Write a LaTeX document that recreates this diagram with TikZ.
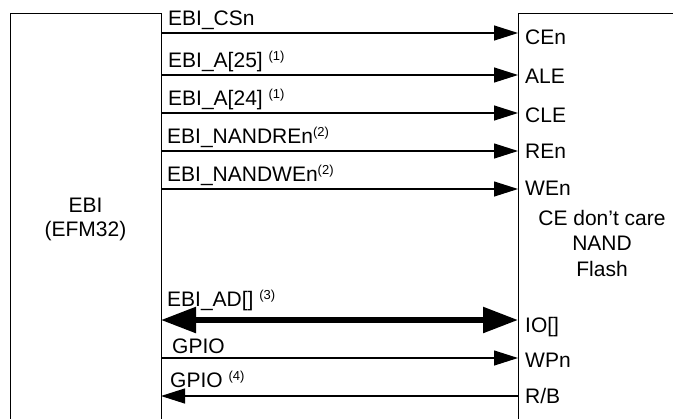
\documentclass[tikz,border=0pt]{standalone}
\usepackage{fontspec}
\setmainfont{Liberation Sans}
\usetikzlibrary{arrows.meta}
\newcommand\supx[1]{\raisebox{6.5bp}{\fontsize{13bp}{13bp}\selectfont #1}}
\begin{document}
\begin{tikzpicture}[x=1bp,y=-1bp,
  font=\fontsize{21bp}{25bp}\selectfont,
  box/.style={draw, line width=1.2bp, inner sep=0, anchor=north west},
  sig/.style={line width=1.2bp, -{Triangle[length=24bp,width=15bp]}},
  sigback/.style={line width=1.2bp, {Triangle[length=24bp,width=15bp]}-},
  bus/.style={line width=5.5bp, {Triangle[length=35bp,width=25bp]}-{Triangle[length=35bp,width=25bp]}},
  lbl/.style={anchor=base west, inner sep=0},
  ctr/.style={anchor=base, inner sep=0},
  ]
\useasboundingbox (0,0) rectangle (673,418);
\clip (0,0) rectangle (673,418);
% boxes (open at the picture's edges)
\node[box, minimum width=151bp, minimum height=430bp] (ebi) at (10,13) {};
\node[box, minimum width=200bp, minimum height=430bp] (nand) at (518,13) {};
% box texts
\node[ctr] (t1) at (85.5,212) {EBI};
\node[ctr] (t2) at (85.5,236) {(EFM32)};
\node[ctr] (t3) at (602,225) {CE don’t care};
\node[ctr] (t4) at (602,250.5) {NAND};
\node[ctr] (t5) at (602,276) {Flash};
% connector end points
\foreach \n/\y in {cs/33,aa/75,ab/113,re/151,we/189,ad/320,wp/358,rb/396}{
  \coordinate (\n L) at (161,\y);
  \coordinate (\n R) at (518,\y);
}
\draw[sig] (csL) -- (csR);
\draw[sig] (aaL) -- (aaR);
\draw[sig] (abL) -- (abR);
\draw[sig] (reL) -- (reR);
\draw[sig] (weL) -- (weR);
\draw[bus] (adL) -- (adR);
\draw[sig] (wpL) -- (wpR);
\draw[sigback] (rbL) -- (rbR);
% left labels
\node[lbl] (l1) at (168,25) {EBI\_CSn};
\node[lbl] (l2) at (168,67) {EBI\_A[25] \supx{(1)}};
\node[lbl] (l3) at (168,105) {EBI\_A[24] \supx{(1)}};
\node[lbl] (l4) at (167,143) {EBI\_NANDREn\supx{(2)}};
\node[lbl] (l5) at (167,181) {EBI\_NANDWEn\supx{(2)}};
\node[lbl] (l6) at (167,306) {EBI\_AD[] \supx{(3)}};
\node[lbl] (l7) at (172,353) {GPIO};
\node[lbl] (l8) at (170,387) {GPIO \supx{(4)}};
% right labels
\node[lbl] (r1) at (525,44) {CEn};
\node[lbl] (r2) at (525,83) {ALE};
\node[lbl] (r3) at (525,122) {CLE};
\node[lbl] (r4) at (525,158) {REn};
\node[lbl] (r5) at (525,195) {WEn};
\node[lbl] (r6) at (525,332) {IO[]};
\node[lbl] (r7) at (525,367) {WPn};
\node[lbl] (r8) at (525,403) {R/B};
\end{tikzpicture}
\end{document}
